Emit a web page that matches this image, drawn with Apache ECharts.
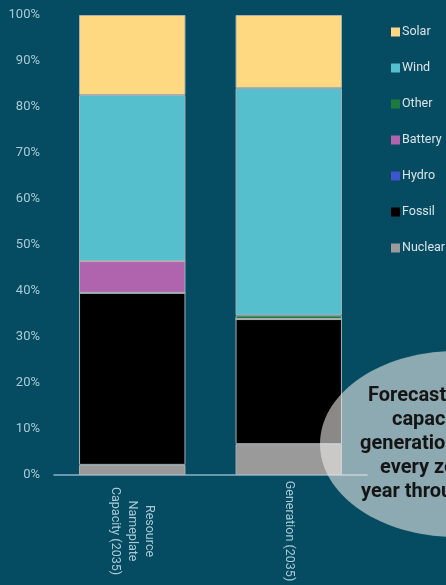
<!DOCTYPE html>
<html>
<head>
<meta charset="utf-8">
<script src="https://cdn.jsdelivr.net/npm/echarts@6/dist/echarts.min.js"></script>
<style>
html,body{margin:0;padding:0;background:#054c62;}
#chart{width:446px;height:585px;}
</style>
</head>
<body>
<div id="chart"></div>
<script>
var categories = ['Resource\nNameplate\nCapacity (2035)', 'Generation (2035)'];
var seriesNames = ['Nuclear', 'Fossil', 'Hydro', 'Battery', 'Other', 'Wind', 'Solar'];
var nuclear = [2.2, 6.7];
var fossil = [37.4, 27.2];
var hydro = [0, 0];
var battery = [6.9, 0];
var other = [0, 0.8];
var wind = [36.1, 49.4];
var solar = [17.4, 15.9];
var legendOrder = ['Solar', 'Wind', 'Other', 'Battery', 'Hydro', 'Fossil', 'Nuclear'];
var yTicks = [0, 10, 20, 30, 40, 50, 60, 70, 80, 90, 100];

var colors = {
  Nuclear: '#9a9a9a', Fossil: '#000000', Hydro: '#3f55cc', Battery: '#b064ae',
  Other: '#1b7a3c', Wind: '#55bfcd', Solar: '#fed982'
};
var values = [nuclear, fossil, hydro, battery, other, wind, solar];

var chart = echarts.init(document.getElementById('chart'));
var series = seriesNames.map(function (n, i) {
  return {
    name: n, type: 'bar', stack: 'total', barWidth: '68%',
    data: values[i],
    itemStyle: { color: colors[n], borderColor: '#a9b1b4', borderWidth: 1 },
    emphasis: { disabled: true }
  };
});

function note(txt, x, y) {
  return { type: 'text', x: x, y: y, z: 101,
    style: { text: txt, fill: '#151515', fontFamily: 'Roboto', fontWeight: 'bold', fontSize: 20,
             align: 'left', verticalAlign: 'middle' } };
}

chart.setOption({
  backgroundColor: '#054c62',
  animation: false,
  grid: { left: 54, right: 79, top: 15, bottom: 110 },
  legend: {
    data: legendOrder, orient: 'vertical', left: 386, top: 20,
    itemWidth: 9, itemHeight: 9, itemGap: 22, icon: 'rect',
    itemStyle: { borderWidth: 0 },
    textStyle: { color: '#d9e3e7', fontFamily: 'Roboto', fontSize: 12.5, lineHeight: 14, padding: [0, 0, 0, -3] }
  },
  xAxis: {
    type: 'category', data: categories,
    axisLine: { lineStyle: { color: '#8ab4c4', width: 1.5 } },
    axisTick: { show: false },
    axisLabel: {
      rotate: -90, align: 'center', verticalAlign: 'middle', margin: 56,
      color: '#a9c9d6', fontFamily: 'Roboto', fontSize: 12.5, lineHeight: 17
    }
  },
  yAxis: {
    type: 'value', min: 0, max: 100, interval: 10,
    splitLine: { show: false }, axisLine: { show: false }, axisTick: { show: false },
    axisLabel: {
      formatter: function (v) { return yTicks.indexOf(v) >= 0 ? v + '%' : ''; },
      color: '#a9c9d6', fontFamily: 'Roboto', fontSize: 13, margin: 14
    }
  },
  series: series,
  graphic: [
    { type: 'ellipse', shape: { cx: 456, cy: 444, rx: 136, ry: 93 },
      style: { fill: 'rgba(240,236,234,0.58)' }, z: 100 },
    note('Forecasted', 368, 396),
    note('capacity', 392, 420),
    note('generation', 360, 444),
    note('every zero', 380, 468),
    note('year through', 361, 492)
  ]
});
</script>
</body>
</html>
